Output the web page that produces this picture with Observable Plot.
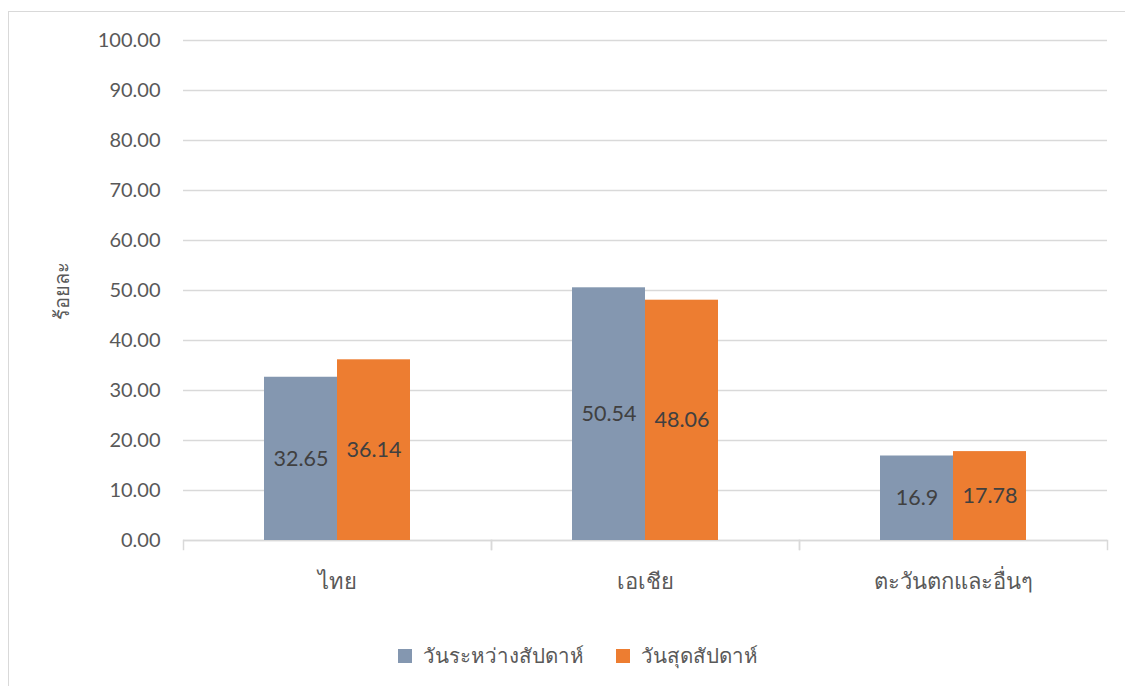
<!DOCTYPE html>
<html>
<head>
<meta charset="utf-8">
<script src="https://cdn.jsdelivr.net/npm/d3@7"></script>
<script src="https://cdn.jsdelivr.net/npm/@observablehq/plot@0.6"></script>
<style>
  html, body { margin: 0; padding: 0; background: #fff; width: 1125px; height: 686px; overflow: hidden; }
  #frame { position: absolute; left: 8px; top: 11px; width: 1130px; height: 700px;
           border-top: 1px solid #d9d9d9; border-left: 1px solid #d9d9d9; }
  #chart { position: absolute; left: 0; top: 0; }
  #legend { position: absolute; left: 389px; top: 627px; display: flex; align-items: center;
            font-family: Lato, "Noto Sans", sans-serif; font-size: 20.5px; color: #595959; }
  .sw { width: 14px; height: 14px; display: inline-block; margin-right: 11px; }
  .item { display: flex; align-items: center; margin-right: 32px; }
</style>
</head>
<body>
<div id="frame">
  <div id="chart"></div>
  <div id="legend"></div>
</div>
<script>
const categories = ["ไทย", "เอเชีย", "ตะวันตกและอื่นๆ"];
const seriesNames = ["วันระหว่างสัปดาห์", "วันสุดสัปดาห์"];
const weekdayValues = [32.65, 50.54, 16.9];
const weekendValues = [36.14, 48.06, 17.78];
const seriesColors = ["#8497B0", "#ED7D31"];
const yTicks = [0, 10, 20, 30, 40, 50, 60, 70, 80, 90, 100];
const yTitle = "ร้อยละ";

const rows = [];
categories.forEach((c, i) => {
  rows.push({category: c, series: seriesNames[0], value: weekdayValues[i]});
  rows.push({category: c, series: seriesNames[1], value: weekendValues[i]});
});

const font = "Lato, 'Noto Sans', sans-serif";

const chart = Plot.plot({
  width: 1116,
  height: 600,
  marginLeft: 174,
  marginRight: 18,
  marginTop: 28,
  marginBottom: 72,
  style: {fontFamily: font, background: "transparent", color: "#595959"},
  fx: {domain: categories, padding: 0, label: null},
  x: {domain: seriesNames, paddingInner: 0, paddingOuter: 1.095, axis: null},
  y: {domain: [0, 100], label: null},
  color: {domain: seriesNames, range: seriesColors},
  marks: [
    Plot.gridY(yTicks, {stroke: "#d9d9d9", strokeOpacity: 1, strokeWidth: 1.3}),
    Plot.ruleY([0], {stroke: "#d9d9d9", strokeWidth: 1.5}),
    Plot.frame({anchor: "left", stroke: "#d9d9d9", strokeWidth: 1.5, insetTop: 500, insetBottom: -9}),
    Plot.frame({anchor: "right", stroke: "#d9d9d9", strokeWidth: 1.5, insetTop: 500, insetBottom: -9}),
    Plot.barY(rows, {fx: "category", x: "series", y: "value", fill: "series"}),
    Plot.text(rows, {fx: "category", x: "series", y: d => d.value / 2, text: d => String(d.value),
      fill: "#404040", fontSize: 21.5, fontFamily: font}),
    Plot.axisY(yTicks, {anchor: "left", tickSize: 0, tickPadding: 23, fontSize: 20, fill: "#595959",
      tickFormat: d => d.toFixed(2), label: null}),
    Plot.text([{fx: categories[0], t: yTitle}], {fx: "fx", text: "t", frameAnchor: "left", rotate: -90,
      textAnchor: "middle", dx: -121, fontSize: 20, fill: "#595959", fontFamily: font}),
    Plot.axisFx({anchor: "bottom", tickSize: 0, tickPadding: 33, fontSize: 22, fill: "#595959", label: null})
  ]
});
document.getElementById("chart").appendChild(chart);

const legend = document.getElementById("legend");
seriesNames.forEach((s, i) => {
  const item = document.createElement("div");
  item.className = "item";
  const sw = document.createElement("span");
  sw.className = "sw";
  sw.style.background = seriesColors[i];
  item.appendChild(sw);
  item.appendChild(document.createTextNode(s));
  legend.appendChild(item);
});
</script>
</body>
</html>
